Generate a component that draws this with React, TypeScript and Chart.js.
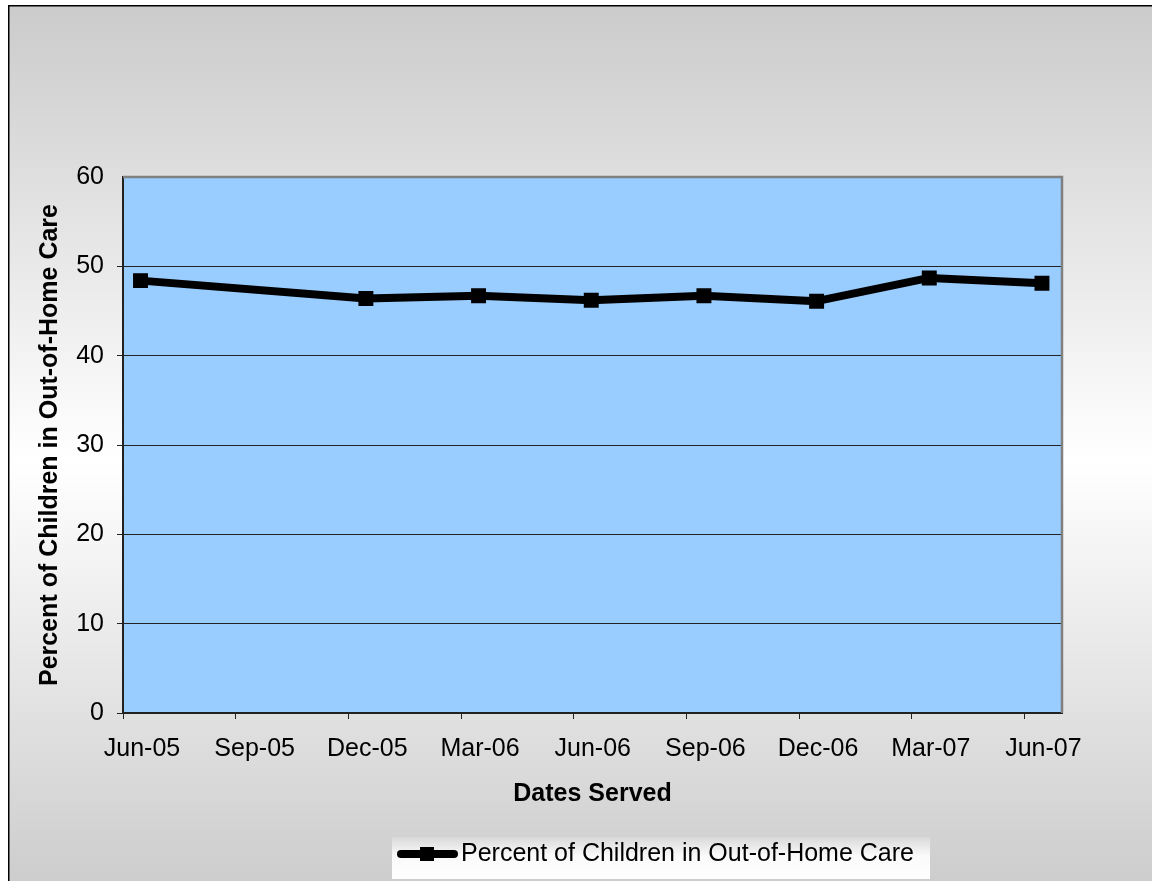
import React, { useEffect, useRef } from "react";
import { Chart, registerables } from "chart.js";

Chart.register(...registerables);

// ---- data ----
const seriesName = "Percent of Children in Out-of-Home Care";
const dataDates = [
  "2005-06-15",
  "2005-12-15",
  "2006-03-15",
  "2006-06-15",
  "2006-09-15",
  "2006-12-15",
  "2007-03-15",
  "2007-06-15",
];
const percentValues = [48.4, 46.4, 46.7, 46.2, 46.7, 46.1, 48.7, 48.1];
const tickLabels = [
  "Jun-05",
  "Sep-05",
  "Dec-05",
  "Mar-06",
  "Jun-06",
  "Sep-06",
  "Dec-06",
  "Mar-07",
  "Jun-07",
];
const xTitle = "Dates Served";
const yTitle = "Percent of Children in Out-of-Home Care";

// months since Jun-2005 (axis origin)
const monthsFromStart = (iso: string) => {
  const [y, m, d] = iso.split("-").map(Number);
  return (y - 2005) * 12 + (m - 6) + (d - 1) / 30;
};

const FONT = "'Liberation Sans', Arial, sans-serif";
const W = 1144;
const H = 876;

const decorPlugin = {
  id: "decor",
  beforeDraw(chart: any) {
    const { ctx, chartArea } = chart;
    ctx.save();
    const g = ctx.createLinearGradient(0, 0, 0, H);
    g.addColorStop(0, "#cbcbcb");
    g.addColorStop(0.52, "#ffffff");
    g.addColorStop(1, "#cdcdcd");
    ctx.fillStyle = g;
    ctx.fillRect(0, 0, W, H);
    // outer border (left & top visible)
    ctx.fillStyle = "#000";
    ctx.fillRect(0, 0, 1.5, H);
    ctx.fillRect(0, 0, W, 1.5);
    // plot area
    ctx.fillStyle = "#99ccff";
    ctx.fillRect(
      chartArea.left,
      chartArea.top,
      chartArea.right - chartArea.left,
      chartArea.bottom - chartArea.top
    );
    ctx.restore();
  },
  beforeDatasetsDraw(chart: any) {
    const { ctx, chartArea } = chart;
    ctx.save();
    ctx.strokeStyle = "#808080";
    ctx.lineWidth = 2.5;
    ctx.beginPath();
    ctx.moveTo(chartArea.left, chartArea.top);
    ctx.lineTo(chartArea.right, chartArea.top);
    ctx.lineTo(chartArea.right, chartArea.bottom);
    ctx.stroke();
    ctx.restore();
  },
  afterDraw(chart: any) {
    const { ctx } = chart;
    ctx.save();
    // legend box
    const bx = 384,
      by = 832,
      bw = 538,
      bh = 42;
    const lg = ctx.createLinearGradient(0, by, 0, by + bh);
    lg.addColorStop(0, "#d9d9d9");
    lg.addColorStop(0.45, "#fafafa");
    lg.addColorStop(1, "#ffffff");
    ctx.fillStyle = lg;
    ctx.fillRect(bx, by, bw, bh);
    const cy = 849;
    ctx.strokeStyle = "#000";
    ctx.lineWidth = 8;
    ctx.lineCap = "round";
    ctx.beginPath();
    ctx.moveTo(393, cy);
    ctx.lineTo(446, cy);
    ctx.stroke();
    ctx.fillStyle = "#000";
    ctx.fillRect(412, cy - 7, 14, 14);
    ctx.font = `25px ${FONT}`;
    ctx.textBaseline = "middle";
    ctx.textAlign = "left";
    ctx.fillText(seriesName, 453, cy);
    ctx.restore();
  },
};

export default function App() {
  const ref = useRef<HTMLCanvasElement | null>(null);

  useEffect(() => {
    if (!ref.current) return;
    const points = dataDates.map((d, i) => ({
      x: monthsFromStart(d),
      y: percentValues[i],
    }));
    const chart = new Chart(ref.current, {
      type: "line",
      data: {
        datasets: [
          {
            label: seriesName,
            data: points,
            borderColor: "#000",
            backgroundColor: "#000",
            borderWidth: 8,
            tension: 0,
            pointStyle: "rect",
            pointRadius: 9.5,
            pointBorderWidth: 1.5,
            pointBackgroundColor: "#000",
            pointBorderColor: "#000",
            borderJoinStyle: "round",
          },
        ],
      },
      options: {
        responsive: false,
        animation: false,
        events: [],
        layout: { padding: { top: 172, right: 90, bottom: 58, left: 8 } },
        plugins: {
          legend: { display: false },
          tooltip: { enabled: false },
          title: { display: false },
        },
        scales: {
          x: {
            type: "linear",
            min: 0,
            max: 25,
            afterFit: (s: any) => {
              s.height = 110;
            },
            border: { display: true, color: "#222", width: 2 },
            grid: {
              display: true,
              drawOnChartArea: false,
              drawTicks: true,
              tickLength: 6,
              color: "#222",
              lineWidth: 1,
            },
            ticks: {
              stepSize: 3,
              includeBounds: false,
              autoSkip: false,
              maxRotation: 0,
              labelOffset: 19,
              padding: 15,
              color: "#000",
              font: { family: FONT, size: 25 },
              callback: (v: any) => {
                const i = Math.round(Number(v) / 3);
                return tickLabels[i] ?? "";
              },
            },
            title: {
              display: true,
              text: xTitle,
              color: "#000",
              font: { family: FONT, size: 25, weight: "bold" },
              padding: { top: 0, bottom: 14 },
            },
          },
          y: {
            min: 0,
            max: 60,
            afterFit: (s: any) => {
              s.width = 107;
            },
            border: { display: true, color: "#222", width: 2 },
            grid: {
              display: true,
              drawTicks: true,
              tickLength: 6,
              color: (c: any) =>
                c.tick && c.tick.value === 60 ? "rgba(0,0,0,0)" : "#222",
              lineWidth: 1,
            },
            ticks: {
              stepSize: 10,
              padding: 13,
              color: "#000",
              font: { family: FONT, size: 25 },
            },
            title: {
              display: true,
              text: yTitle,
              color: "#000",
              font: { family: FONT, size: 25, weight: "bold" },
              padding: { top: 19, bottom: 0 },
            },
          },
        },
      } as any,
      plugins: [decorPlugin],
    });
    return () => chart.destroy();
  }, []);

  return (
    <div style={{ position: "fixed", left: 8, top: 5, width: W, height: H }}>
      <canvas ref={ref} width={W} height={H} style={{ display: "block", width: W, height: H }} />
    </div>
  );
}
